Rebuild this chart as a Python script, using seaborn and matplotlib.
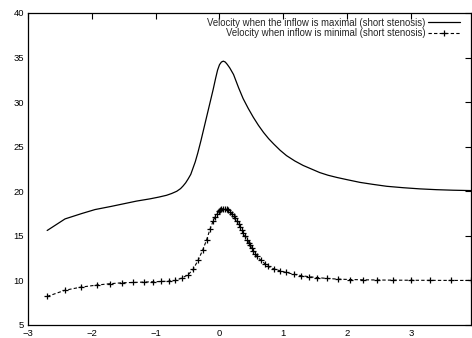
import numpy as np
import pandas as pd
import matplotlib as mpl
import matplotlib.pyplot as plt
import seaborn as sns

mpl.use('Agg')

# Velocity when inflow is maximal (solid curve)
x_max = [-2.70, -2.42, -2.16, -1.95, -1.70, -1.50, -1.30, -1.09, -0.95, -0.83,
         -0.75, -0.67, -0.61, -0.57, -0.53, -0.49, -0.45, -0.42, -0.38, -0.34,
         -0.29, -0.25, -0.20, -0.15, -0.10, -0.06, -0.03, 0.00, 0.03, 0.06,
         0.09, 0.12, 0.16, 0.22, 0.30, 0.37, 0.45, 0.53, 0.61, 0.69, 0.77,
         0.85, 0.95, 1.05, 1.18, 1.31, 1.44, 1.57, 1.70, 1.84, 2.00, 2.20,
         2.40, 2.62, 2.88, 3.14, 3.40, 3.66, 3.94]
v_max = [15.6, 16.9, 17.5, 17.95, 18.3, 18.6, 18.9, 19.15, 19.35, 19.55,
         19.75, 20.0, 20.3, 20.6, 20.95, 21.4, 21.9, 22.5, 23.3, 24.3,
         25.7, 26.9, 28.4, 29.9, 31.4, 32.7, 33.6, 34.2, 34.5, 34.6,
         34.5, 34.25, 33.85, 33.1, 31.6, 30.4, 29.3, 28.3, 27.4, 26.6, 25.9,
         25.3, 24.6, 24.0, 23.4, 22.9, 22.5, 22.1, 21.8, 21.55, 21.3, 21.0,
         20.78, 20.56, 20.4, 20.27, 20.18, 20.12, 20.08]

# Velocity when inflow is minimal (dashed curve with markers)
x_min = [-2.70, -2.42, -2.17, -1.92, -1.72, -1.52, -1.35, -1.18, -1.04, -0.91,
         -0.79, -0.69, -0.59, -0.49, -0.41, -0.33, -0.26, -0.20, -0.15, -0.10,
         -0.07, -0.04, -0.01, 0.01, 0.03, 0.06, 0.08, 0.11, 0.13, 0.16, 0.19,
         0.22, 0.25, 0.27, 0.30, 0.32, 0.35, 0.37, 0.40, 0.43, 0.46, 0.48,
         0.51, 0.53, 0.56, 0.58, 0.65, 0.71, 0.76, 0.85, 0.94, 1.04, 1.16,
         1.27, 1.40, 1.53, 1.69, 1.85, 2.05, 2.25, 2.46, 2.72, 3.00, 3.30,
         3.63, 3.94]
v_min = [8.2, 8.9, 9.25, 9.48, 9.63, 9.74, 9.77, 9.82, 9.85, 9.88,
         9.92, 10.0, 10.27, 10.64, 11.28, 12.34, 13.46, 14.59, 15.72, 16.66,
         17.1, 17.42, 17.75, 17.9, 18.02, 18.06, 18.02, 17.98, 17.85, 17.67, 17.45,
         17.22, 16.95, 16.66, 16.35, 16.02, 15.7, 15.35, 14.97, 14.59, 14.25, 13.92,
         13.6, 13.27, 13.0, 12.71, 12.26, 11.88, 11.58, 11.3, 11.1, 10.9, 10.7,
         10.55, 10.42, 10.32, 10.22, 10.15, 10.1, 10.07, 10.05, 10.03, 10.02, 10.01,
         10.0, 10.0]

label_max = 'Velocity when the inflow is maximal (short stenosis)'
label_min = 'Velocity when inflow is minimal (short stenosis)'

df_max = pd.DataFrame({'x': x_max, 'v': v_max})
df_min = pd.DataFrame({'x': x_min, 'v': v_min})

sns.set_style('white')
plt.rcParams['font.family'] = ['Liberation Sans', 'DejaVu Sans']

fig = plt.figure(figsize=(4.72, 3.38), dpi=100)
ax = fig.add_axes([28 / 472, 13 / 338, 443 / 472, 312 / 338])

sns.lineplot(data=df_max, x='x', y='v', ax=ax, color='black', lw=0.9,
             label=label_max, sort=False)
sns.lineplot(data=df_min, x='x', y='v', ax=ax, color='black', lw=0.8,
             ls=(0, (3, 2)), marker='+', markersize=4.5, markeredgewidth=0.9,
             markeredgecolor='black', label=label_min, sort=False)

ax.set_xlim(-3, 3.94)
ax.set_ylim(5, 40)
ax.set_xticks([-3, -2, -1, 0, 1, 2, 3])
ax.set_yticks([5, 10, 15, 20, 25, 30, 35, 40])
ax.set_xlabel('')
ax.set_ylabel('')
ax.tick_params(direction='in', length=4, width=0.8, labelsize=6.8,
               top=True, right=True, colors='black', pad=3)
for s in ax.spines.values():
    s.set_color('black')
    s.set_linewidth(0.9)

ax.legend(loc='upper right', frameon=False, markerfirst=False, fontsize=6.9,
          handlelength=3.3, handletextpad=0.25, labelspacing=0.05,
          borderpad=0, numpoints=1, bbox_to_anchor=(0.985, 1.0))

fig.savefig('out.png', dpi=100)
